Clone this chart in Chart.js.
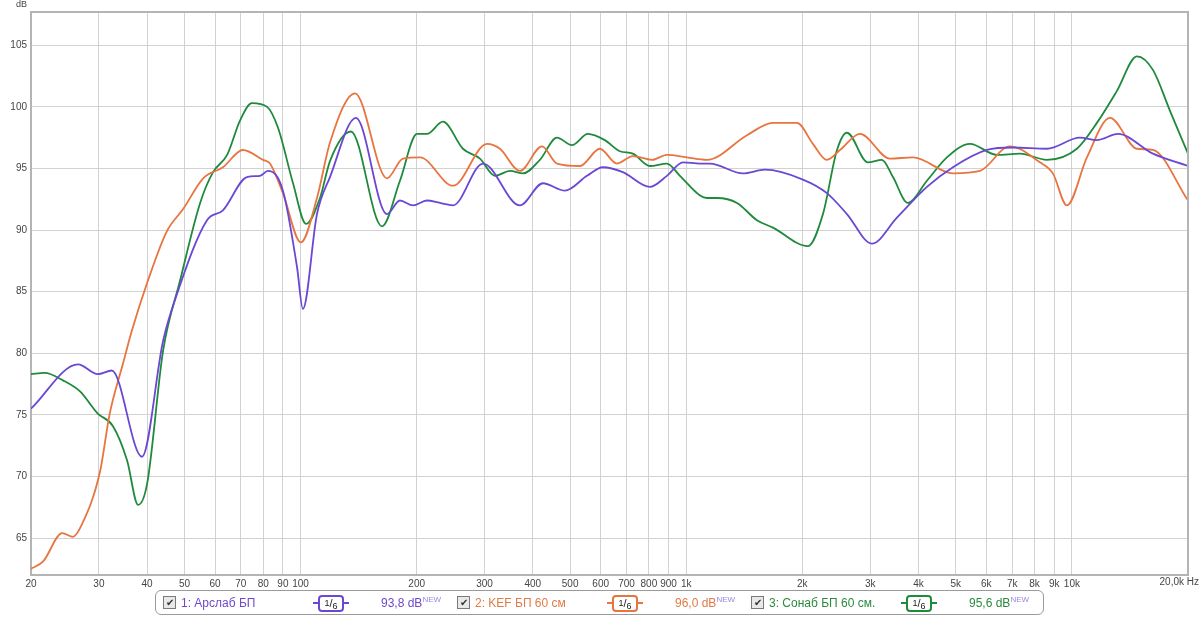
<!DOCTYPE html>
<html>
<head>
<meta charset="utf-8">
<script src="https://cdn.jsdelivr.net/npm/chart.js@4.4.0/dist/chart.umd.min.js"></script>
<style>
  html, body { margin: 0; padding: 0; background: #fff; }
  #wrap { position: relative; width: 1200px; height: 617px; font-family: "Liberation Sans", Arial, sans-serif; }
  #legend { position: absolute; left: 155px; top: 590px; width: 889px; height: 25px; border: 1px solid #9a9a9a; border-radius: 6px; box-sizing: border-box; }
  .it { position: absolute; top: 4px; font-size: 12px; white-space: nowrap; line-height: 16px; }
  .cb { position: absolute; top: 5px; width: 11px; height: 11px; border: 1px solid #7a7a7a; background: #e8e8e8; font-size: 10px; line-height: 11px; text-align: center; color: #333; }
  .badge { position: absolute; top: 4px; height: 15px; }
  .badge .ln { position: absolute; top: 7px; height: 2px; }
  .badge .bx { position: absolute; left: 5px; top: 0; width: 22px; height: 13px; border: 2px solid; border-radius: 4px; font-size: 10px; line-height: 13px; text-align: center; color: #222; }
  .bx span { position: relative; display: inline-block; line-height: 10px; }
  sup.new { font-size: 8px; line-height: 0; color: #9a86e0; vertical-align: 5px; }
</style>
</head>
<body>
<div id="wrap">
  <canvas id="myChart" width="1200" height="617"></canvas>
  <div id="legend"></div>
</div>
<script>
// frequency (Hz) / level (dB)
const freqArslab = [20, 26.5, 29.8, 32.4, 38.8, 44.0, 47.8, 57.2, 62.9, 72.6, 78.5, 82.3, 90.0, 97.9, 101.4, 110.3, 119.2, 139.2, 167.5, 181, 195.6, 212.6, 229.8, 248.4, 297.2, 370.4, 425, 484.8, 552.8, 608, 685, 805, 891, 981, 1086, 1152, 1403, 1600, 2007, 2316, 2610, 3030, 3518, 4208, 4916, 6020, 7032, 8614, 10488, 11610, 13164, 16220, 20000]
const dbArslab = [75.5, 79.1, 78.3, 78.6, 71.6, 81.0, 84.8, 90.8, 91.6, 94.3, 94.4, 94.8, 93.2, 87.0, 83.6, 91.3, 94.3, 99.1, 91.3, 92.4, 92.0, 92.4, 92.2, 92.0, 95.4, 92.0, 93.8, 93.2, 94.4, 95.1, 94.7, 93.5, 94.4, 95.5, 95.4, 95.4, 94.6, 94.9, 94.1, 93.0, 91.3, 88.9, 91.0, 93.5, 95.1, 96.5, 96.7, 96.6, 97.5, 97.3, 97.8, 96.2, 95.2]

const freqKef = [20, 21.5, 24.1, 25.7, 27.1, 30.2, 32.0, 34.6, 36.5, 40.0, 45.0, 49.6, 55.9, 62.9, 70.9, 79.9, 83.3, 90.0, 100.2, 110.3, 119.2, 138.4, 167.5, 184.3, 204, 248.4, 304.4, 328.8, 370.4, 422.6, 462.2, 530.2, 597, 661, 727, 815, 891, 1004, 1132, 1437, 1678, 1937, 2130, 2316, 2504, 2822, 3374, 3872, 4916, 5774, 6906, 8260, 8926, 9706, 10938, 12550, 14742, 16220, 20000]
const dbKef = [62.5, 63.1, 65.4, 65.1, 66.1, 70.4, 75.1, 79.1, 81.8, 85.7, 89.9, 91.7, 94.2, 95.1, 96.5, 95.7, 95.4, 93.0, 89.0, 92.6, 97.1, 101.1, 94.2, 95.8, 95.9, 93.6, 97.0, 96.6, 94.8, 96.8, 95.4, 95.2, 96.6, 95.4, 96.0, 95.7, 96.1, 95.9, 95.7, 97.7, 98.7, 98.7, 97.0, 95.7, 96.5, 97.8, 95.8, 95.9, 94.6, 94.8, 96.8, 95.5, 94.6, 92.0, 95.9, 99.1, 96.6, 96.5, 92.4]

const freqSonab = [20, 21.7, 24.2, 26.8, 29.8, 32.6, 35.5, 37.9, 40.0, 44.0, 48.7, 54.9, 59.3, 64.5, 69.7, 74.8, 81.9, 87.4, 95.6, 103.3, 112.3, 119.2, 135.1, 162.6, 181, 200.4, 212.6, 234, 263.6, 291.8, 319.2, 349.2, 377.2, 417.4, 462.2, 505.4, 556, 615, 673, 727, 805, 891, 963, 1086, 1132, 1201, 1354, 1525, 1678, 2068, 2262, 2460, 2610, 2958, 3216, 3436, 3756, 4208, 4742, 5440, 6390, 7332, 8614, 10302, 11610, 13086, 14742, 16220, 17950, 20000]
const dbSonab = [78.3, 78.4, 77.8, 76.9, 75.1, 74.1, 71.3, 67.7, 69.4, 80.2, 85.9, 92.2, 94.7, 96.1, 98.9, 100.3, 100.0, 98.3, 93.8, 90.5, 92.6, 95.6, 98.0, 90.3, 94.0, 97.8, 97.8, 98.8, 96.6, 95.8, 94.4, 94.8, 94.6, 95.7, 97.5, 96.9, 97.8, 97.3, 96.4, 96.2, 95.2, 95.4, 94.4, 92.8, 92.6, 92.6, 92.2, 90.8, 90.2, 88.7, 91.3, 96.5, 97.9, 95.5, 95.7, 94.3, 92.2, 94.0, 95.9, 97.0, 96.1, 96.2, 95.7, 96.6, 98.7, 101.3, 104.1, 103.0, 99.7, 96.2]

const xTicks = [20, 30, 40, 50, 60, 70, 80, 90, 100, 200, 300, 400, 500, 600, 700, 800, 900, 1000, 2000, 3000, 4000, 5000, 6000, 7000, 8000, 9000, 10000, 20000]
const xTickLabels = ['20', '30', '40', '50', '60', '70', '80', '90', '100', '200', '300', '400', '500', '600', '700', '800', '900', '1k', '2k', '3k', '4k', '5k', '6k', '7k', '8k', '9k', '10k', '']
const yTicks = [65, 70, 75, 80, 85, 90, 95, 100, 105]

const seriesNames = ['1: Арслаб БП', '2: KEF БП 60 см', '3: Сонаб БП 60 см.']
const seriesLevels = ['93,8 dB', '96,0 dB', '95,6 dB']
const colors = ['#6a48d4', '#e8743f', '#1f8a3c']
const textColors = ['#7048cc', '#e07a48', '#2a8a3e']

const toPoints = (f, d) => f.map((v, i) => ({ x: v, y: d[i] }))

const frame = {
    id: 'frame',
    afterDraw(chart) {
        const { ctx, chartArea: a } = chart
        ctx.save()
        ctx.strokeStyle = '#b4b4b4'
        ctx.lineWidth = 2
        ctx.beginPath()
        ctx.moveTo(a.left, a.top)
        ctx.lineTo(a.right, a.top)
        ctx.lineTo(a.right, a.bottom)
        ctx.stroke()
        ctx.fillStyle = '#444'
        ctx.font = '9px "Liberation Sans", Arial, sans-serif'
        ctx.textAlign = 'left'
        ctx.textBaseline = 'middle'
        ctx.fillText('dB', 16, 5)
        ctx.font = '10px "Liberation Sans", Arial, sans-serif'
        ctx.textAlign = 'right'
        ctx.fillText('20,0k Hz', 1199, 582)
        ctx.restore()
    }
}

const ctx = document.getElementById('myChart')
const myChart = new Chart(ctx, {
    type: 'line',
    data: {
        datasets: [
            { label: seriesNames[0], data: toPoints(freqArslab, dbArslab), borderColor: colors[0] },
            { label: seriesNames[1], data: toPoints(freqKef, dbKef), borderColor: colors[1] },
            { label: seriesNames[2], data: toPoints(freqSonab, dbSonab), borderColor: colors[2] }
        ]
    },
    options: {
        responsive: false,
        animation: false,
        devicePixelRatio: 1,
        layout: { padding: { top: 12, right: 12, left: 0, bottom: 0 } },
        elements: {
            point: { radius: 0 },
            line: { borderWidth: 1.8, cubicInterpolationMode: 'monotone', fill: false }
        },
        plugins: {
            legend: { display: false },
            tooltip: { enabled: false }
        },
        scales: {
            x: {
                type: 'logarithmic',
                min: 20,
                max: 20000,
                afterBuildTicks: (s) => { s.ticks = xTicks.map(v => ({ value: v })) },
                afterFit: (s) => { s.height = 42 },
                grid: { color: '#d2d2d2', drawTicks: false },
                border: { color: '#b4b4b4', width: 2 },
                ticks: {
                    autoSkip: false,
                    maxRotation: 0,
                    padding: 3,
                    color: '#444',
                    font: { size: 10, family: '"Liberation Sans", Arial, sans-serif' },
                    callback: (v, i) => xTickLabels[i]
                }
            },
            y: {
                min: 62,
                max: 107.7,
                afterBuildTicks: (s) => { s.ticks = yTicks.map(v => ({ value: v })) },
                afterFit: (s) => { s.width = 31 },
                grid: { color: '#d2d2d2', drawTicks: false },
                border: { color: '#b4b4b4', width: 2 },
                ticks: {
                    padding: 4,
                    color: '#444',
                    font: { size: 10, family: '"Liberation Sans", Arial, sans-serif' },
                    callback: (v) => v
                }
            }
        }
    },
    plugins: [frame]
})

// legend row under the plot
const legend = document.getElementById('legend')
const itemX = [0, 294, 588]
seriesNames.forEach((name, i) => {
    const x0 = itemX[i]
    legend.insertAdjacentHTML('beforeend',
        `<div class="cb" style="left:${x0 + 7}px">✔</div>` +
        `<div class="it" style="left:${x0 + 25}px;color:${textColors[i]}">${name}</div>` +
        `<div class="badge" style="left:${x0 + 157}px;width:36px">` +
        `<div class="ln" style="left:0;width:6px;background:${colors[i]}"></div>` +
        `<div class="bx" style="border-color:${colors[i]}"><span style="top:-1px;font-size:9px">1</span><span style="font-size:11px">/</span><span style="top:2px;font-size:9px">6</span></div>` +
        `<div class="ln" style="left:30px;width:6px;background:${colors[i]}"></div></div>` +
        `<div class="it" style="left:${x0 + 225}px;color:${textColors[i]}">${seriesLevels[i]}<sup class="new">NEW</sup></div>`)
})
</script>
</body>
</html>
